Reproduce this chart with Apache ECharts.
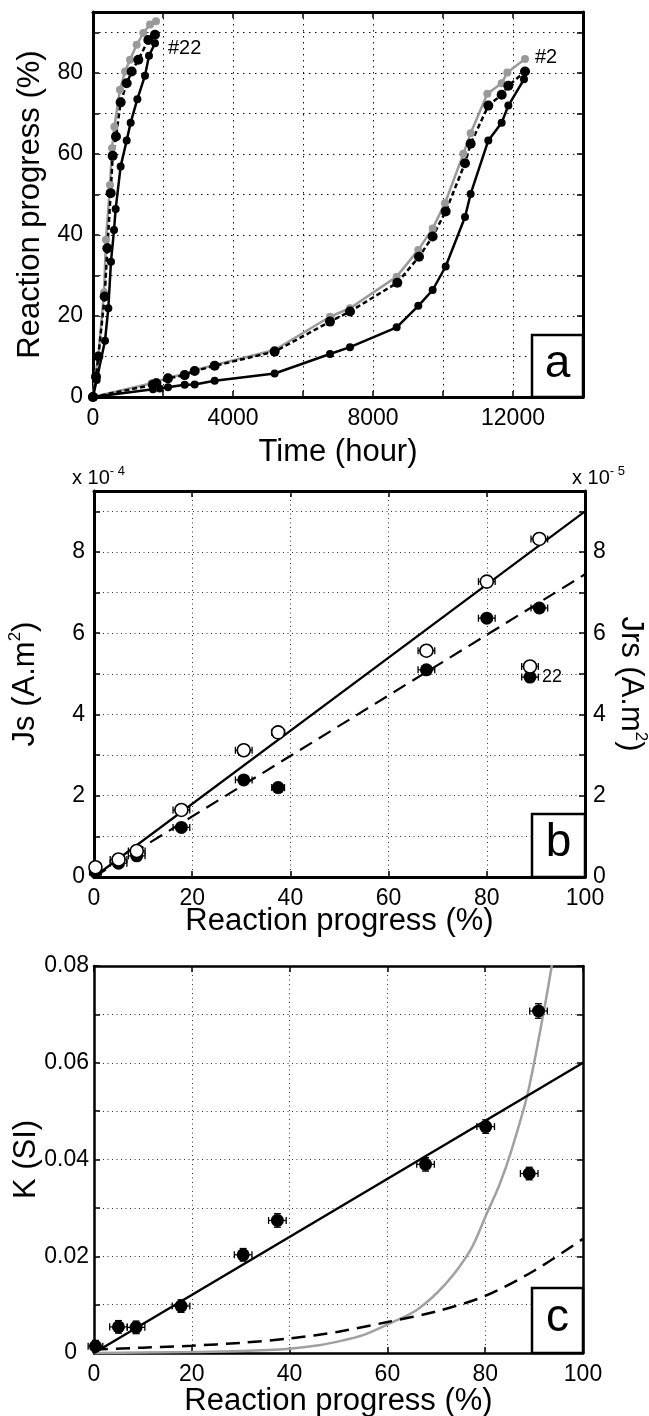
<!DOCTYPE html>
<html>
<head>
<meta charset="utf-8">
<script src="https://cdn.jsdelivr.net/npm/echarts@6/dist/echarts.min.js"></script>
<style>
html, body { margin: 0; padding: 0; background: #fff; }
#chart { width: 649px; height: 1416px; }
</style>
</head>
<body>
<div id="chart"></div>
<script>
// ---- panel a : reaction progress (%) against time (hour) ----
var run22Gray  = [[0,0],[57,5],[152,10],[314,25.8],[371,38.8],[486,52.3],[543,61.4],[610,66.7],[771,75.8],[914,80.3],[1057,83.2],[1248,86.9],[1438,89.8],[1629,91.9],[1800,92.7]];
var run22Dash  = [[0,0],[86,5.0],[152,10],[333,24.8],[410,36.7],[505,50.3],[562,59.5],[657,64.3],[790,72.7],[962,77.4],[1105,80.3],[1295,83.2],[1581,88.1],[1771,89.4]];
var run22Solid = [[0,0],[105,4.2],[343,13.9],[438,21.9],[514,33.4],[600,41.2],[648,46.4],[790,56.9],[962,63.3],[1076,67.7],[1267,73.5],[1486,79.3],[1600,84.2],[1771,87.3]];
var run2Gray   = [[0,0],[1676,3.4],[1810,3.7],[2143,4.8],[2619,5.6],[2905,6.6],[3476,7.9],[5190,11.6],[6771,19.8],[7343,21.9],[8676,29.7],[9295,36.3],[9705,41.6],[10057,47.8],[10581,60.0],[10790,65.1],[11267,74.8],[11676,77.4],[11838,80.1],[12343,83.4]];
var run2Dash   = [[0,0],[1714,3.0],[1810,3.4],[2143,4.6],[2619,5.4],[2905,6.4],[3476,7.7],[5190,11.2],[6771,18.6],[7343,21.1],[8695,28.2],[9314,34.6],[9705,39.6],[10076,45.8],[10629,57.7],[10790,62.5],[11295,71.9],[11676,74.6],[11867,76.8],[12343,80.3]];
var run2Solid  = [[0,0],[1714,1.9],[1905,2.1],[2143,2.4],[2619,3.0],[2905,3.1],[3476,4.0],[5190,5.8],[6771,10.6],[7343,12.3],[8676,17.2],[9295,22.5],[9705,26.4],[10076,32.2],[10629,44.4],[10790,50.1],[11295,63.3],[11676,67.7],[11867,71.9],[12314,78.4]];

// ---- panel b : Js (x1e-4) and Jrs (x1e-5) against reaction progress ----
var bProgress = [0.3, 5.0, 8.7, 17.8, 30.5, 37.5, 67.7, 80.0, 90.7, 88.8];
var bProgErr  = [1.2, 1.7, 1.7, 1.7, 1.7, 1.3, 1.7, 1.7, 1.7, 1.7];
var bJs       = [0.24, 0.43, 0.64, 1.65, 3.12, 3.56, 5.57, 7.27, 8.32, 5.18];
var bJrs      = [0.12, 0.34, 0.52, 1.22, 2.39, 2.20, 5.10, 6.37, 6.62, 4.92];
var bJsFit    = [[0,0],[100,9.0]];
var bJrsFit   = [[0,0],[100,7.45]];

// ---- panel c : K (SI) against reaction progress ----
var cProgress = [0.3, 5.0, 8.6, 17.8, 30.5, 37.5, 67.8, 80.1, 89.0, 90.9];
var cProgErr  = [1.5, 1.8, 1.8, 1.8, 1.8, 1.8, 1.8, 1.8, 1.8, 1.8];
var cK        = [0.0014, 0.0054, 0.0053, 0.0097, 0.0203, 0.0274, 0.0390, 0.0468, 0.0371, 0.0707];
var cKErr     = [0.0012, 0.0013, 0.0013, 0.0013, 0.0013, 0.0014, 0.0014, 0.0014, 0.0013, 0.0015];
var cLinear   = [[0,0],[100,0.06]];
var cDashed   = [[0,0.0007],[10,0.0011],[20,0.0015],[30,0.0021],[40,0.003],[50,0.0044],[60,0.0064],[70,0.0086],[80,0.0118],[90,0.017],[100,0.0236]];
var cGray     = [[0,0],[10,0.0001],[20,0.0002],[30,0.0004],[40,0.0009],[46,0.0016],[50,0.0024],[55,0.0037],[60,0.0059],[66,0.0089],[72,0.0144],[77,0.0213],[80.3,0.0288],[83,0.035],[85.4,0.042],[88.7,0.0537],[92,0.0707],[93.6,0.08],[94.3,0.0845]];

var FONT = '"Liberation Sans", Arial, sans-serif';

function zip(xs, ys, ex, ey) {
    var out = [];
    for (var i = 0; i < xs.length; i++) {
        out.push([xs[i], ys[i], ex ? ex[i] : 0, ey ? ey[i] : 0]);
    }
    return out;
}

function errRender(params, api) {
    var x = api.value(0), y = api.value(1), ex = api.value(2), ey = api.value(3);
    var st = { stroke: '#000', lineWidth: 1.3 };
    var cap = 3.5;
    var kids = [];
    if (ex > 0) {
        var l = api.coord([x - ex, y]), r = api.coord([x + ex, y]);
        kids.push({ type: 'line', shape: { x1: l[0], y1: l[1], x2: r[0], y2: r[1] }, style: st });
        kids.push({ type: 'line', shape: { x1: l[0], y1: l[1] - cap, x2: l[0], y2: l[1] + cap }, style: st });
        kids.push({ type: 'line', shape: { x1: r[0], y1: r[1] - cap, x2: r[0], y2: r[1] + cap }, style: st });
    }
    if (ey > 0) {
        var t = api.coord([x, y + ey]), b = api.coord([x, y - ey]);
        kids.push({ type: 'line', shape: { x1: t[0], y1: t[1], x2: b[0], y2: b[1] }, style: st });
        kids.push({ type: 'line', shape: { x1: t[0] - cap, y1: t[1], x2: t[0] + cap, y2: t[1] }, style: st });
        kids.push({ type: 'line', shape: { x1: b[0] - cap, y1: b[1], x2: b[0] + cap, y2: b[1] }, style: st });
    }
    return { type: 'group', children: kids };
}

function gridLine(dash, color) {
    return { show: true, lineStyle: { color: color, width: 1, type: dash } };
}

function mkAxis(grid, pos, min, max, interval, fmt, opts) {
    opts = opts || {};
    var ax = {
        type: 'value', gridIndex: grid, position: pos,
        min: min, max: max, interval: interval,
        axisLine: { show: true, onZero: false, lineStyle: { color: '#000', width: opts.lw || 3 } },
        axisTick: { show: true, inside: true, length: 6, lineStyle: { color: '#000', width: 1.5 } },
        axisLabel: {
            show: !!fmt, formatter: fmt, fontFamily: FONT, fontSize: 23, color: '#000',
            margin: opts.margin || 10, showMinLabel: true, showMaxLabel: true,
            rich: { z: { fontFamily: FONT, fontSize: 23, color: '#000', padding: [0, 12, 0, 0] } }
        },
        splitLine: opts.split ? opts.split : { show: false }
    };
    if (opts.name) {
        ax.name = opts.name;
        ax.nameLocation = 'middle';
        ax.nameGap = opts.gap;
        ax.nameMoveOverlap = false;
        if (opts.rotate !== undefined) ax.nameRotate = opts.rotate;
        ax.nameTextStyle = {
            fontFamily: FONT, fontSize: 31, color: '#000',
            rich: { s: { fontFamily: FONT, fontSize: 17, color: '#000', verticalAlign: 'top', lineHeight: 36 } }
        };
    }
    return ax;
}

var splitA = gridLine([1.5, 4.5], '#111');
var splitBC = gridLine([1, 3.5], '#333');

var xAxes = [
    mkAxis(0, 'bottom', 0, 14000, 2000, function (v) { return v % 4000 === 0 ? String(v) : ''; },
        { split: splitA, name: 'Time (hour)', gap: 40 }),
    mkAxis(0, 'top', 0, 14000, 2000, null, {}),
    mkAxis(1, 'bottom', 0, 100, 20, function (v) { return String(v); },
        { split: splitBC, name: 'Reaction progress (%)', gap: 29 }),
    mkAxis(1, 'top', 0, 100, 20, null, {}),
    mkAxis(2, 'bottom', 0, 100, 20, function (v) { return String(v); },
        { split: splitBC, name: 'Reaction progress (%)', gap: 33, lw: 2.5 }),
    mkAxis(2, 'top', 0, 100, 20, null, { lw: 2.5 })
];

var yAxes = [
    mkAxis(0, 'left', 0, 95, 10, function (v) { return v % 20 === 0 ? String(v) : ''; },
        { split: splitA, name: 'Reaction progress (%)', gap: 47 }),
    mkAxis(0, 'right', 0, 95, 10, null, {}),
    mkAxis(1, 'left', 0, 9.5, 1, function (v) { return v % 2 === 0 ? String(v) : ''; },
        { split: splitBC, name: 'Js (A.m{s|2})', gap: 51, margin: 9 }),
    mkAxis(1, 'right', 0, 9.5, 1, function (v) { return v % 2 === 0 ? String(v) : ''; },
        { name: 'Jrs (A.m{s|2})', gap: 28, rotate: -90, margin: 8 }),
    mkAxis(2, 'left', 0, 0.08, 0.01, function (v) {
            var k = Math.round(v * 100);
            if (k === 0) return '{z|0}';
            return k % 2 === 0 ? (k / 100).toFixed(2) : '';
        },
        { split: splitBC, name: 'K (SI)', gap: 52, margin: 5, lw: 2.5 }),
    mkAxis(2, 'right', 0, 0.08, 0.01, null, { lw: 2.5 })
];

function runLine(data, color, dashed, size) {
    return {
        type: 'line', xAxisIndex: 0, yAxisIndex: 0, data: data,
        symbol: 'circle', symbolSize: size, clip: false,
        itemStyle: { color: color, opacity: 1 },
        lineStyle: { color: color, width: 2.5, type: dashed ? [5, 3] : 'solid' },
        emphasis: { disabled: true }, animation: false
    };
}

function fitLine(xi, yi, data, color, dashed, width, smooth) {
    return {
        type: 'line', xAxisIndex: xi, yAxisIndex: yi, data: data,
        smooth: smooth || false,
        showSymbol: false, symbol: 'none',
        lineStyle: { color: color, width: width, type: dashed ? [14, 8] : 'solid' },
        emphasis: { disabled: true }, animation: false
    };
}

function errSeries(xi, yi, data) {
    return {
        type: 'custom', xAxisIndex: xi, yAxisIndex: yi, data: data,
        renderItem: errRender, encode: { x: 0, y: 1 }, clip: false, z: 3, animation: false
    };
}

function dots(xi, yi, data, open) {
    return {
        type: 'scatter', xAxisIndex: xi, yAxisIndex: yi, data: data,
        symbol: 'circle', symbolSize: 13, clip: false, z: 4,
        itemStyle: open ? { color: '#fff', borderColor: '#000', borderWidth: 1.6, opacity: 1 }
                        : { color: '#000', opacity: 1 },
        emphasis: { disabled: true }, animation: false
    };
}

var bJsPts = zip(bProgress, bJs, bProgErr, null);
var bJrsPts = zip(bProgress, bJrs, bProgErr, null);
var cPts = zip(cProgress, cK, cProgErr, cKErr);

var series = [
    runLine(run22Gray, '#9a9a9a', false, 8),
    runLine(run2Gray, '#9a9a9a', false, 8),
    runLine(run22Dash, '#000', true, 10),
    runLine(run2Dash, '#000', true, 10),
    runLine(run22Solid, '#000', false, 8),
    runLine(run2Solid, '#000', false, 8),

    fitLine(2, 2, bJsFit, '#000', false, 2.2),
    fitLine(2, 2, bJrsFit, '#000', true, 2.2),
    errSeries(2, 2, bJrsPts),
    dots(2, 2, bJrsPts, false),
    errSeries(2, 2, bJsPts),
    dots(2, 2, bJsPts, true),

    fitLine(4, 4, cGray, '#a0a0a0', false, 2.5, 0.3),
    fitLine(4, 4, cDashed, '#000', true, 2.5, 0.3),
    fitLine(4, 4, cLinear, '#000', false, 2.5),
    errSeries(4, 4, cPts),
    dots(4, 4, cPts, false)
];
series[12].clip = true;

function panelBox(x, y, w, h, letter) {
    return [
        { type: 'rect', z: 100, shape: { x: x, y: y, width: w, height: h },
          style: { fill: '#fff', stroke: '#000', lineWidth: 2.5 } },
        { type: 'text', z: 101, x: x + w / 2, y: y + h / 2 - 2,
          style: { text: letter, fill: '#000', font: '46px ' + FONT, align: 'center', verticalAlign: 'middle' } }
    ];
}

function note(x, y, txt, size) {
    return { type: 'text', z: 101, x: x, y: y,
             style: { text: txt, fill: '#000', font: size + 'px ' + FONT, verticalAlign: 'middle' } };
}

function scaleNote(x, y, exp) {
    return { type: 'text', z: 101, x: x, y: y,
             style: { text: '{b|x 10}{s|' + exp + '}', verticalAlign: 'middle',
                      rich: { b: { fontFamily: FONT, fontSize: 20, fill: '#000', lineHeight: 26 },
                              s: { fontFamily: FONT, fontSize: 13, fill: '#000', verticalAlign: 'top', lineHeight: 26 } } } };
}

var graphics = []
    .concat(panelBox(532, 335, 51, 62, 'a'))
    .concat(panelBox(532, 814, 53, 63, 'b'))
    .concat(panelBox(532, 1288, 51, 65, 'c'))
    .concat([
        note(168, 48, '#22', 20),
        note(535, 57, '#2', 20),
        note(542, 677, '22', 18),
        scaleNote(72, 478, '- 4'),
        scaleNote(572, 478, '- 5')
    ]);

var myChart = echarts.init(document.getElementById('chart'));
myChart.setOption({
    animation: false,
    backgroundColor: '#fff',
    textStyle: { fontFamily: FONT },
    grid: [
        { left: 93, top: 12, width: 490, height: 385, containLabel: false, outerBoundsMode: 'none' },
        { left: 94, top: 491, width: 491, height: 386, containLabel: false, outerBoundsMode: 'none' },
        { left: 94, top: 966, width: 489, height: 387, containLabel: false, outerBoundsMode: 'none' }
    ],
    xAxis: xAxes,
    yAxis: yAxes,
    series: series,
    graphic: graphics
});
</script>
</body>
</html>
